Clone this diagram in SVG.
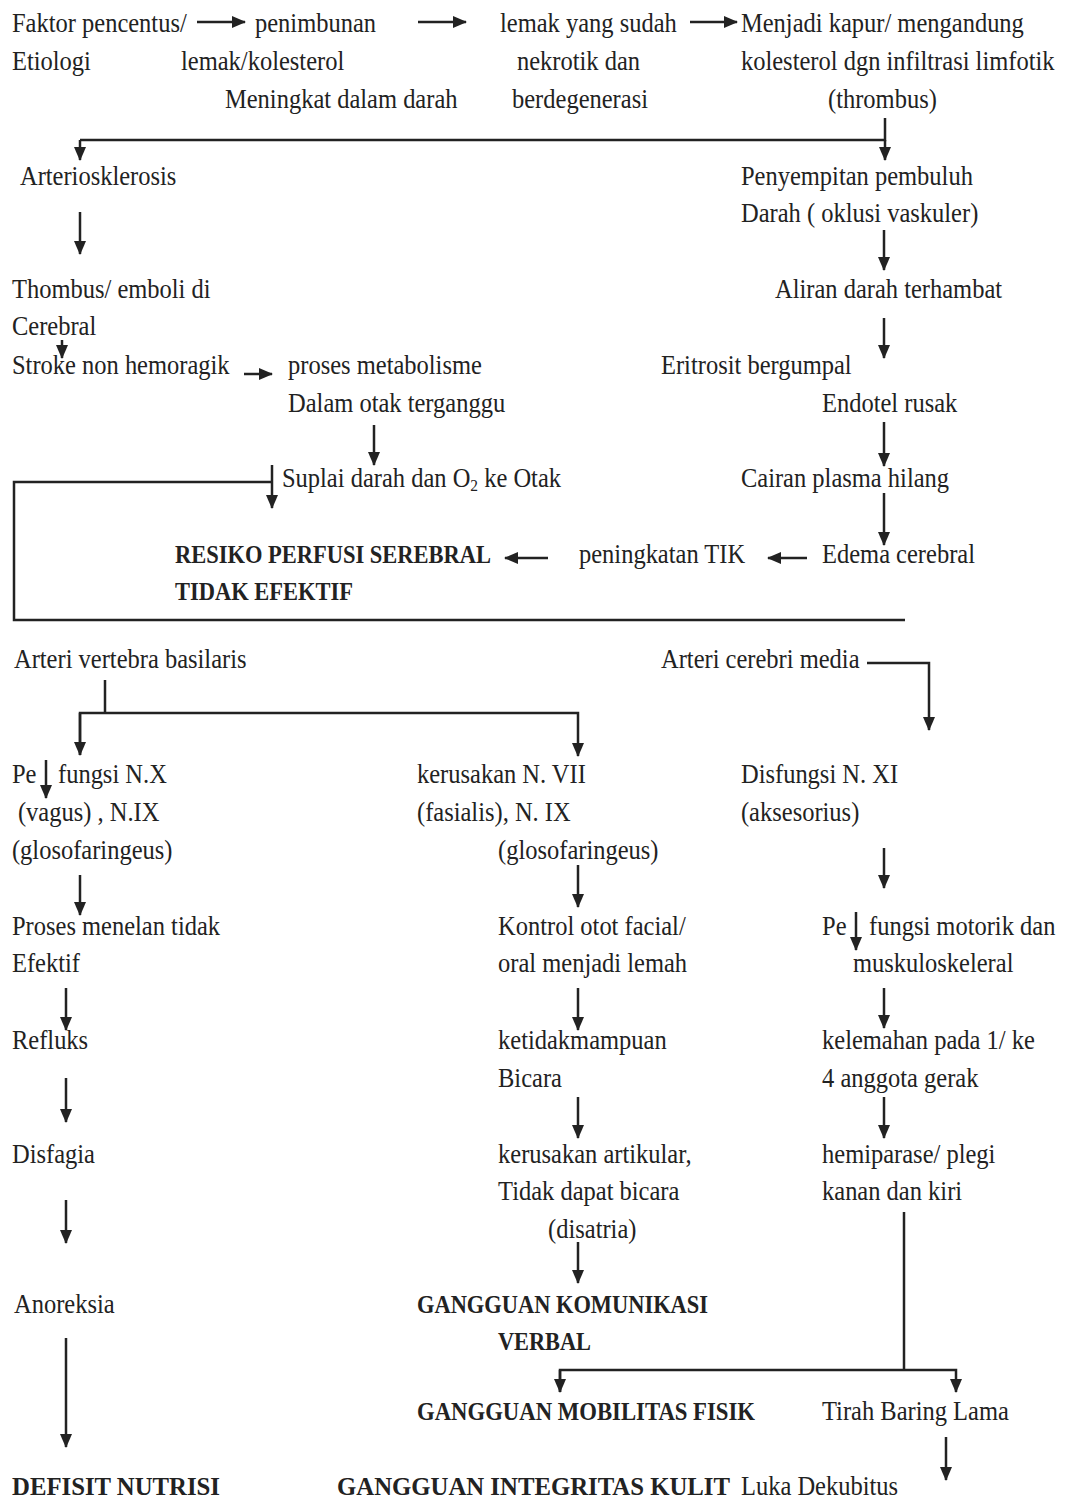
<svg xmlns="http://www.w3.org/2000/svg" width="1067" height="1502" viewBox="0 0 1067 1502">
<style>
text{font-family:"Liberation Serif","Times New Roman",serif;font-size:27px;fill:#222;transform:scale(0.9075,1)}
text.b{font-weight:bold;font-size:26px;transform:none}
.c{fill:none;stroke:#222;stroke-width:2.5}
.a{fill:none;stroke:#222;stroke-width:2.5;marker-end:url(#ah)}
</style>
<defs>
<marker id="ah" markerUnits="userSpaceOnUse" markerWidth="14" markerHeight="14" refX="13" refY="6" orient="auto" viewBox="0 0 14 12">
<path d="M0,0 L14,6 L0,12 z" fill="#222"/>
</marker>
</defs>
<rect width="1067" height="1502" fill="#fff"/>
<g id="connectors">
<line class="a" x1="197" y1="22" x2="245" y2="22"/>
<line class="a" x1="418" y1="22" x2="466" y2="22"/>
<line class="a" x1="690" y1="22" x2="737" y2="22"/>
<polyline class="c" points="885,118 885,140 80,140"/>
<line class="a" x1="885" y1="140" x2="885" y2="160"/>
<line class="a" x1="80" y1="140" x2="80" y2="160"/>
<line class="a" x1="80" y1="212" x2="80" y2="254"/>
<line class="a" x1="884" y1="230" x2="884" y2="270"/>
<line class="a" x1="884" y1="318" x2="884" y2="358"/>
<line class="a" x1="62" y1="340" x2="62" y2="358"/>
<line class="a" x1="244" y1="374" x2="272" y2="374"/>
<line class="a" x1="374" y1="425" x2="374" y2="465"/>
<line class="a" x1="884" y1="422" x2="884" y2="466"/>
<line class="a" x1="272" y1="465" x2="272" y2="508"/>
<polyline class="c" points="272,482 14,482 14,620 905,620"/>
<line class="a" x1="884" y1="493" x2="884" y2="545"/>
<line class="a" x1="548" y1="558" x2="505" y2="558"/>
<line class="a" x1="807" y1="558" x2="768" y2="558"/>
<polyline class="a" points="867,663 929,663 929,730"/>
<line class="c" x1="105" y1="680" x2="105" y2="713"/>
<polyline class="a" points="80,755 80,713 578,713 578,756"/>
<line class="a" x1="80" y1="713" x2="80" y2="755"/>
<line class="a" x1="46" y1="760" x2="46" y2="798"/>
<line class="a" x1="80" y1="875" x2="80" y2="915"/>
<line class="a" x1="578" y1="865" x2="578" y2="907"/>
<line class="a" x1="884" y1="848" x2="884" y2="888"/>
<line class="a" x1="856" y1="912" x2="856" y2="950"/>
<line class="a" x1="66" y1="988" x2="66" y2="1030"/>
<line class="a" x1="578" y1="988" x2="578" y2="1030"/>
<line class="a" x1="884" y1="988" x2="884" y2="1028"/>
<line class="a" x1="66" y1="1078" x2="66" y2="1122"/>
<line class="a" x1="578" y1="1097" x2="578" y2="1138"/>
<line class="a" x1="884" y1="1097" x2="884" y2="1138"/>
<line class="a" x1="66" y1="1200" x2="66" y2="1243"/>
<line class="a" x1="578" y1="1242" x2="578" y2="1283"/>
<line class="c" x1="904" y1="1212" x2="904" y2="1370"/>
<polyline class="a" points="560,1392 560,1370 956,1370 956,1392"/>
<line class="a" x1="560" y1="1370" x2="560" y2="1392"/>
<line class="a" x1="66" y1="1338" x2="66" y2="1447"/>
<line class="a" x1="946" y1="1437" x2="946" y2="1480"/>
</g>
<g id="n-faktor"><text x="13.2" y="32">Faktor pencentus/</text><text x="13.2" y="70">Etiologi</text></g>
<g id="n-penimbunan"><text x="281" y="32">penimbunan</text><text x="199.5" y="70">lemak/kolesterol</text><text x="247.9" y="108">Meningkat dalam darah</text></g>
<g id="n-lemak"><text x="551" y="32">lemak yang sudah</text><text x="569.7" y="70">nekrotik dan</text><text x="564.2" y="108">berdegenerasi</text></g>
<g id="n-kapur"><text x="816.5" y="32">Menjadi kapur/ mengandung</text><text x="816.5" y="70">kolesterol dgn infiltrasi limfotik</text><text x="912.4" y="108">(thrombus)</text></g>
<g id="n-arterio"><text x="22" y="185">Arteriosklerosis</text></g>
<g id="n-penyempitan"><text x="816.5" y="185">Penyempitan pembuluh</text><text x="816.5" y="222">Darah ( oklusi vaskuler)</text></g>
<g id="n-thombus"><text x="13.2" y="298">Thombus/ emboli di</text><text x="13.2" y="335">Cerebral</text></g>
<g id="n-aliran"><text x="854" y="298">Aliran darah terhambat</text></g>
<g id="n-stroke"><text x="13.2" y="374">Stroke non hemoragik</text></g>
<g id="n-proses"><text x="317.4" y="374">proses metabolisme</text><text x="317.4" y="412">Dalam otak terganggu</text></g>
<g id="n-eritrosit"><text x="728.4" y="374">Eritrosit bergumpal</text></g>
<g id="n-endotel"><text x="905.8" y="412">Endotel rusak</text></g>
<g id="n-suplai"><text x="310.7" y="487">Suplai darah dan O<tspan font-size="17" dy="4">2</tspan><tspan dy="-4"> ke Otak</tspan></text></g>
<g id="n-cairan"><text x="816.5" y="487">Cairan plasma hilang</text></g>
<g id="n-resiko"><text class="b" x="175" y="563" textLength="316" lengthAdjust="spacingAndGlyphs">RESIKO PERFUSI SEREBRAL</text><text class="b" x="175" y="600" textLength="178" lengthAdjust="spacingAndGlyphs">TIDAK EFEKTIF</text></g>
<g id="n-tik"><text x="638" y="563">peningkatan TIK</text></g>
<g id="n-edema"><text x="905.8" y="563">Edema cerebral</text></g>
<g id="n-vertebra"><text x="15.4" y="668">Arteri vertebra basilaris</text></g>
<g id="n-media"><text x="728.4" y="668">Arteri cerebri media</text></g>
<g id="n-nx"><text x="13.2" y="783">Pe</text><text x="63.9" y="783">fungsi N.X</text><text x="19.8" y="821">(vagus) , N.IX</text><text x="13.2" y="859">(glosofaringeus)</text></g>
<g id="n-nvii"><text x="459.5" y="783">kerusakan N. VII</text><text x="459.5" y="821">(fasialis), N. IX</text><text x="548.8" y="859">(glosofaringeus)</text></g>
<g id="n-nxi"><text x="816.5" y="783">Disfungsi N. XI</text><text x="816.5" y="821">(aksesorius)</text></g>
<g id="n-menelan"><text x="13.2" y="935">Proses menelan tidak</text><text x="13.2" y="972">Efektif</text></g>
<g id="n-kontrol"><text x="548.8" y="935">Kontrol otot facial/</text><text x="548.8" y="972">oral menjadi lemah</text></g>
<g id="n-motorik"><text x="905.8" y="935">Pe</text><text x="957.6" y="935">fungsi motorik dan</text><text x="939.9" y="972">muskuloskeleral</text></g>
<g id="n-refluks"><text x="13.2" y="1049">Refluks</text></g>
<g id="n-ketidak"><text x="548.8" y="1049">ketidakmampuan</text><text x="548.8" y="1087">Bicara</text></g>
<g id="n-kelemahan"><text x="905.8" y="1049">kelemahan pada 1/ ke</text><text x="905.8" y="1087">4 anggota gerak</text></g>
<g id="n-disfagia"><text x="13.2" y="1163">Disfagia</text></g>
<g id="n-artikular"><text x="548.8" y="1163">kerusakan artikular,</text><text x="548.8" y="1200">Tidak dapat bicara</text><text x="603.9" y="1238">(disatria)</text></g>
<g id="n-hemiparase"><text x="905.8" y="1163">hemiparase/ plegi</text><text x="905.8" y="1200">kanan dan kiri</text></g>
<g id="n-anoreksia"><text x="15.4" y="1313">Anoreksia</text></g>
<g id="n-komunikasi"><text class="b" x="417" y="1313" textLength="291" lengthAdjust="spacingAndGlyphs">GANGGUAN KOMUNIKASI</text><text class="b" x="498" y="1350" textLength="93" lengthAdjust="spacingAndGlyphs">VERBAL</text></g>
<g id="n-mobilitas"><text class="b" x="417" y="1420" textLength="338" lengthAdjust="spacingAndGlyphs">GANGGUAN MOBILITAS FISIK</text></g>
<g id="n-tirah"><text x="905.8" y="1420">Tirah Baring Lama</text></g>
<g id="n-defisit"><text class="b" x="12" y="1495" textLength="208" lengthAdjust="spacingAndGlyphs">DEFISIT NUTRISI</text></g>
<g id="n-integritas"><text class="b" x="337" y="1495" textLength="393" lengthAdjust="spacingAndGlyphs">GANGGUAN INTEGRITAS KULIT</text></g>
<g id="n-luka"><text x="816.5" y="1495">Luka Dekubitus</text></g>
</svg>
